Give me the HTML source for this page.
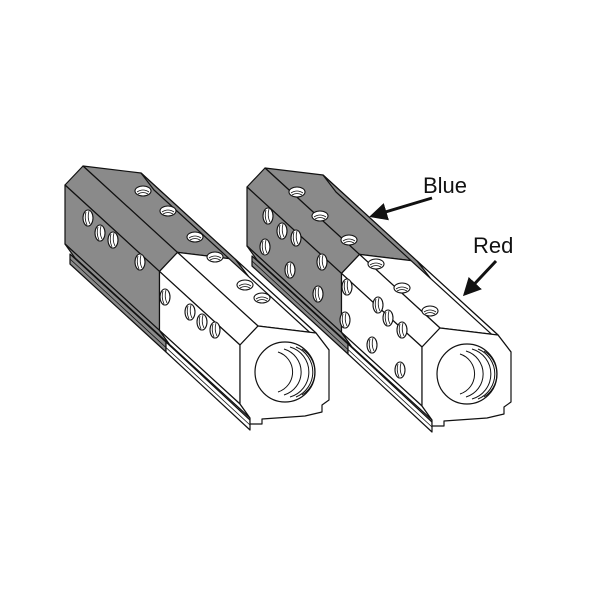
<!DOCTYPE html>
<html><head><meta charset="utf-8"><style>
html,body{margin:0;padding:0;background:#fff;}
svg{display:block;}
</style></head><body>
<svg width="600" height="600" viewBox="0 0 600 600" xmlns="http://www.w3.org/2000/svg">
<defs>
<marker id="ah" markerWidth="6" markerHeight="6" refX="5" refY="3" orient="auto" markerUnits="strokeWidth">
<path d="M0,0 L6,3 L0,6 z" fill="#111"/>
</marker>
<g id="body" stroke="#111" stroke-width="1.2" stroke-linejoin="round">
 <polygon points="70,254 166,342 166,352 70,264" fill="#8a8a8a"/>
 <polygon points="166,342 250,420 250,430 166,352" fill="#fff"/>
 <line x1="70" y1="259" x2="250" y2="425" stroke-width="0.8"/>
 <polygon points="83,166 141,173 235.5,259.4 177.5,252.4" fill="#8a8a8a"/>
 <polygon points="177.5,252.4 235.5,259.4 316,333 258,326" fill="#fff"/>
 <polygon points="141,173 154,190 248.5,276.4 235.5,259.4" fill="#8a8a8a"/>
 <polygon points="235.5,259.4 248.5,276.4 329,350 316,333" fill="#fff"/>
 <polygon points="65,185 83,166 177.5,252.4 159.5,271.4" fill="#8a8a8a"/>
 <polygon points="159.5,271.4 177.5,252.4 258,326 240,345" fill="#fff"/>
 <polygon points="65,244 65,185 159.5,271.4 159.5,330.4" fill="#8a8a8a"/>
 <polygon points="159.5,330.4 159.5,271.4 240,345 240,404" fill="#fff"/>
 <polygon points="75,258 65,244 159.5,330.4 169.5,344.4" fill="#8a8a8a"/>
 <polygon points="169.5,344.4 159.5,330.4 240,404 250,418" fill="#fff"/>
 <polygon points="258,326 316,333 329,350 329,400 322,405 322,412 305,416 262,419 262,424 250,424 250,418 240,404 240,345" fill="#fff"/>
 <circle cx="285" cy="372" r="30" fill="#fff"/>
 <g fill="none" stroke-width="1">
  <path d="M302,349 A27,27 0 0 1 302,395"/>
  <path d="M296,347 A27,27 0 0 1 296,397"/>
  <path d="M290,347 A26,26 0 0 1 290,397"/>
  <path d="M284,349 A24,24 0 0 1 284,395"/>
  <path d="M278,352 A21,21 0 0 1 278,392"/>
 </g>
</g>
<g id="hole"><ellipse cx="0" cy="0" rx="5" ry="8" fill="#fff" stroke="#111" stroke-width="1.1"/><path d="M-2,-6 Q-4,0 -1,7 M1,-7 Q-1,0 2,6" fill="none" stroke="#111" stroke-width="0.8"/></g>
<g id="thole"><ellipse cx="0" cy="0" rx="8" ry="5" fill="#fff" stroke="#111" stroke-width="1.1"/><path d="M-6,1 Q0,-3 6,1 M-5,3 Q0,0 5,3" fill="none" stroke="#111" stroke-width="0.8"/></g>
</defs>

<!-- Left block -->
<use href="#body"/>
<use href="#hole" x="88" y="218"/>
<use href="#hole" x="100" y="233"/>
<use href="#hole" x="113" y="240"/>
<use href="#hole" x="140" y="262"/>
<use href="#hole" x="165" y="297"/>
<use href="#hole" x="190" y="312"/>
<use href="#hole" x="202" y="322"/>
<use href="#hole" x="215" y="330"/>
<use href="#thole" x="143" y="191"/>
<use href="#thole" x="168" y="211"/>
<use href="#thole" x="195" y="237"/>
<use href="#thole" x="215" y="257"/>
<use href="#thole" x="245" y="285"/>
<use href="#thole" x="262" y="298"/>

<!-- Right block -->
<use href="#body" x="182" y="2"/>
<use href="#thole" x="297" y="192"/>
<use href="#thole" x="320" y="216"/>
<use href="#thole" x="349" y="240"/>
<use href="#thole" x="376" y="264"/>
<use href="#thole" x="402" y="288"/>
<use href="#thole" x="430" y="311"/>
<use href="#hole" x="268" y="216"/>
<use href="#hole" x="282" y="231"/>
<use href="#hole" x="296" y="238"/>
<use href="#hole" x="322" y="262"/>
<use href="#hole" x="265" y="247"/>
<use href="#hole" x="290" y="270"/>
<use href="#hole" x="318" y="294"/>
<use href="#hole" x="347" y="287"/>
<use href="#hole" x="378" y="305"/>
<use href="#hole" x="388" y="318"/>
<use href="#hole" x="402" y="330"/>
<use href="#hole" x="345" y="320"/>
<use href="#hole" x="372" y="345"/>
<use href="#hole" x="400" y="370"/>

<!-- Labels -->
<text x="423" y="193" font-family="Liberation Sans, sans-serif" font-size="22" fill="#111">Blue</text>
<text x="473" y="253" font-family="Liberation Sans, sans-serif" font-size="22" fill="#111">Red</text>
<line x1="432" y1="198" x2="372" y2="216" stroke="#111" stroke-width="3" marker-end="url(#ah)"/>
<line x1="496" y1="261" x2="465" y2="294" stroke="#111" stroke-width="3" marker-end="url(#ah)"/>
</svg>
</body></html>
